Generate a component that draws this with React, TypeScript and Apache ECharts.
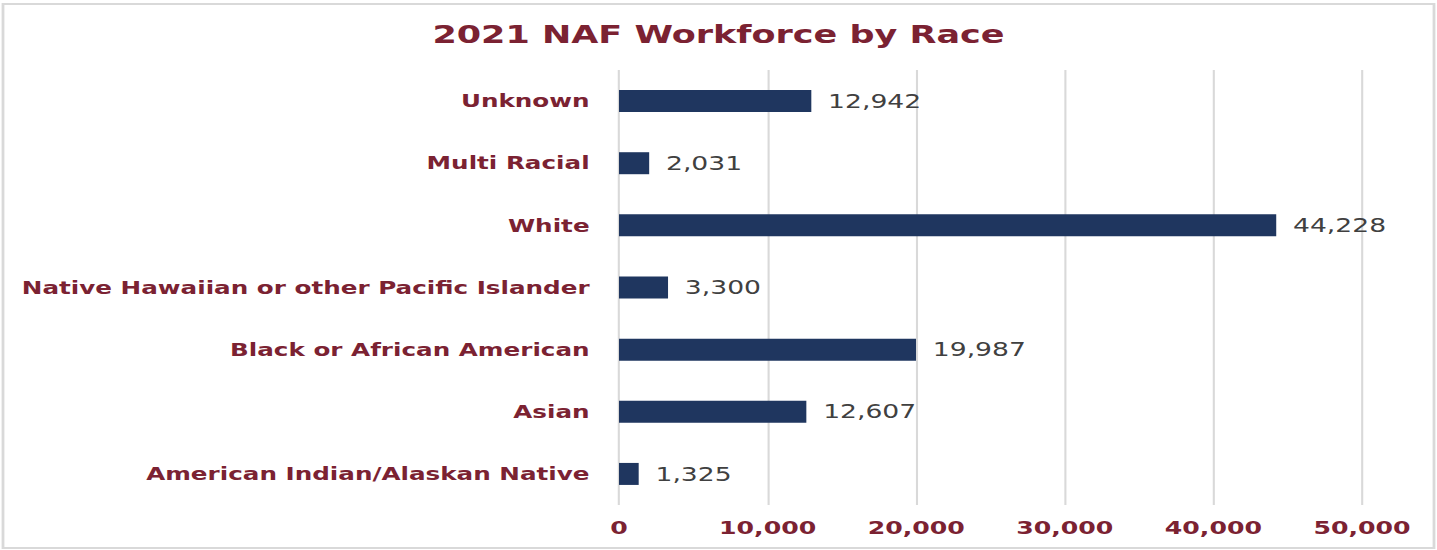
import React, { useEffect, useRef } from "react";
import * as echarts from "echarts";

const categories = [
  "American Indian/Alaskan Native",
  "Asian",
  "Black or African American",
  "Native Hawaiian or other Pacific Islander",
  "White",
  "Multi Racial",
  "Unknown",
];
const workforce = [1325, 12607, 19987, 3300, 44228, 2031, 12942];
const titleText = "2021 NAF Workforce by Race";

const W = 1437;
const H = 550;
const SX = 1.4;
const NW = W / SX;

export default function App() {
  const ref = useRef<HTMLDivElement>(null);
  useEffect(() => {
    if (!ref.current) return;
    const chart = echarts.init(ref.current, undefined, { renderer: "svg", width: NW, height: H });
    const red = "#7B2232";
    chart.setOption({
      animation: false,
      backgroundColor: "#ffffff",
      title: {
        text: titleText,
        left: "center",
        top: 17,
        textStyle: { fontFamily: "DejaVu Sans", fontSize: 25, fontWeight: "bold", color: red },
      },
      graphic: [
        {
          type: "rect",
          shape: { x: 3 / SX, y: 4, width: (1434 - 3) / SX, height: 544 },
          style: { fill: "none", stroke: "#d9d9d9", lineWidth: 2 },
          silent: true,
        },
      ],
      grid: { top: 70, bottom: 45, left: 619 / SX, right: 75 / SX, containLabel: false },
      xAxis: {
        type: "value",
        min: 0,
        max: 50000,
        interval: 10000,
        axisLine: { show: false },
        axisTick: { show: false },
        splitLine: { show: true, lineStyle: { color: "#d9d9d9", width: 1.5 } },
        axisLabel: {
          margin: 14,
          fontFamily: "DejaVu Sans",
          fontSize: 18,
          fontWeight: "bold",
          color: red,
          formatter: (v: number) => v.toLocaleString("en-US"),
        },
      },
      yAxis: {
        type: "category",
        data: categories,
        axisLine: { show: false },
        axisTick: { show: false },
        axisLabel: {
          margin: 21,
          fontFamily: "DejaVu Sans",
          fontSize: 17.6,
          fontWeight: "bold",
          color: red,
        },
      },
      series: [
        {
          type: "bar",
          data: workforce,
          barWidth: 22,
          itemStyle: { color: "#1F365F" },
          label: {
            show: true,
            position: "right",
            distance: 12,
            fontFamily: "DejaVu Sans",
            fontSize: 19,
            color: "#404040",
            formatter: (p: any) => Number(p.value).toLocaleString("en-US"),
          },
        },
      ],
    });
    return () => chart.dispose();
  }, []);
  return (
    <div style={{ position: "absolute", left: 0, top: 0, width: W, height: H, overflow: "hidden", background: "#fff" }}>
      <div
        ref={ref}
        style={{ width: NW, height: H, transform: `scaleX(${SX})`, transformOrigin: "0 0" }}
      />
    </div>
  );
}
